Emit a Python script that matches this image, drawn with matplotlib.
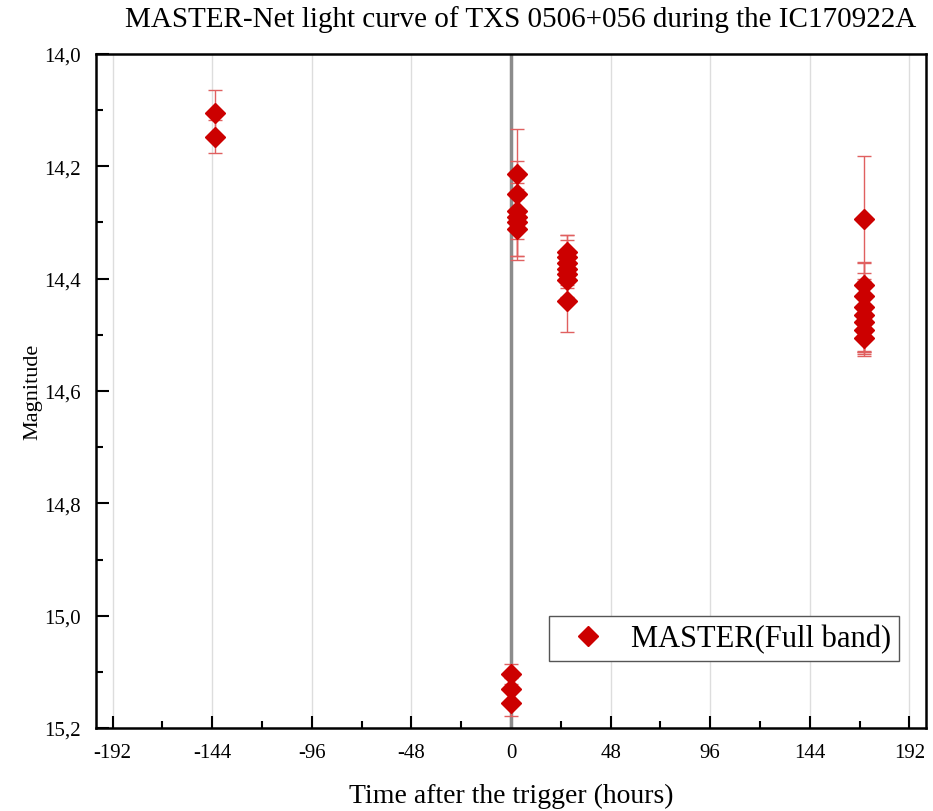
import numpy as np
import matplotlib.pyplot as plt
from matplotlib.ticker import MultipleLocator, FuncFormatter

# hours after trigger, magnitude, error
t_hours = [-142.5, -142.5,
           0.0, 0.0, 0.0,
           3.0, 3.0, 3.0, 3.0, 3.0, 3.0,
           27.0, 27.0, 27.0, 27.0, 27.0, 27.0, 27.0,
           170.0, 170.0, 170.0, 170.0, 170.0, 170.0, 170.0, 170.0]
mag = [14.105, 14.147,
       15.104, 15.131, 15.156,
       14.213, 14.250, 14.280, 14.290, 14.300, 14.312,
       14.352, 14.362, 14.372, 14.382, 14.392, 14.402, 14.440,
       14.293, 14.412, 14.430, 14.450, 14.465, 14.478, 14.492, 14.505]
mag_err = [0.040, 0.030,
           0.018, 0.020, 0.022,
           0.080, 0.060, 0.050, 0.070, 0.060, 0.055,
           0.030, 0.040, 0.040, 0.035, 0.040, 0.040, 0.055,
           0.112, 0.040, 0.040, 0.080, 0.065, 0.050, 0.045, 0.030]

plt.rcParams['font.family'] = 'Liberation Serif'


def main():
    fig = plt.figure(figsize=(9.33, 8.12), dpi=100)
    ax = fig.add_axes([0.1029, 0.1022, 0.8896, 0.8301])

    ax.axvline(0, color='#8c8c8c', lw=2.5, zorder=1)
    ax.errorbar(t_hours, mag, yerr=mag_err, fmt='none', ecolor='#e06060',
                elinewidth=1, capsize=5, capthick=1, zorder=2)
    ax.plot(t_hours, mag, 'D', color='#cc0000', markersize=10, lw=0,
            label='MASTER(Full band)', zorder=3)

    ax.set_xlim(-200, 200)
    ax.set_ylim(15.2, 14.0)
    ax.xaxis.set_major_locator(MultipleLocator(48))
    ax.xaxis.set_minor_locator(MultipleLocator(24))
    ax.yaxis.set_major_locator(MultipleLocator(0.2))
    ax.yaxis.set_minor_locator(MultipleLocator(0.1))
    ax.yaxis.set_major_formatter(FuncFormatter(lambda v, p: f'{v:.1f}'.replace('.', ',')))
    ax.xaxis.set_major_formatter(FuncFormatter(lambda v, p: f'{v:.0f}'))

    ax.grid(axis='x', which='major', color='#dddddd', lw=1)
    ax.set_axisbelow(True)
    ax.tick_params(which='both', direction='in', width=1.5, labelsize=15,
                   top=False, right=False, pad=11)
    ax.tick_params(which='major', length=9)
    ax.tick_params(which='minor', length=5)
    for s in ax.spines.values():
        s.set_linewidth(1.8)

    ax.set_xlabel('Time after the trigger (hours)', fontsize=20, labelpad=15)
    ax.set_ylabel('Magnitude', fontsize=16, labelpad=1)
    ax.set_title('MASTER-Net light curve of TXS 0506+056 during the IC170922A',
                 fontsize=21, pad=20, x=0.512)

    leg = ax.legend(loc='lower right', bbox_to_anchor=(0.9675, 0.0994), fontsize=22,
                    fancybox=False, framealpha=1, edgecolor='#555555',
                    borderaxespad=0, borderpad=0.25, handletextpad=0.38,
                    handlelength=2.06)
    leg.get_frame().set_linewidth(1)

    fig.savefig('out.png', dpi=100)


if __name__ == "__main__":
    main()
